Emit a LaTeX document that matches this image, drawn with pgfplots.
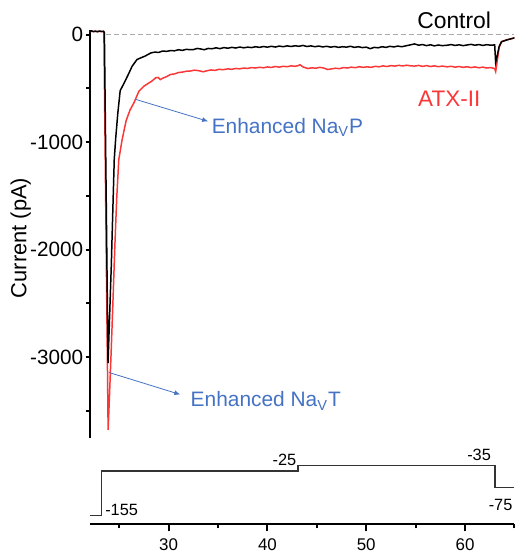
\documentclass[border=0pt]{standalone}
\usepackage{pgfplots}
\pgfplotsset{compat=1.18}
\usepackage{fontspec}
\setmainfont{Liberation Sans}
\usetikzlibrary{arrows.meta}
\definecolor{atxred}{RGB}{250,55,55}
\definecolor{annblue}{RGB}{68,114,196}
\definecolor{dashgray}{RGB}{170,170,170}
\begin{document}
\begin{tikzpicture}
% current traces
\begin{axis}[
  at={(0,0)}, anchor=south west,
  scale only axis, width=213.5pt, height=205pt,
  xmin=22, xmax=65, ymin=-3750, ymax=45,
  axis x line=none, axis y line*=left,
  axis line style={line width=1pt,-},
  xtick=\empty,
  ytick={-3000,-2000,-1000,0},
  yticklabels={-3000,-2000,-1000,0},
  minor ytick={-3500,-2500,-1500,-500},
  tick align=outside,
  major tick length=2pt, minor tick length=1.6pt,
  every tick/.style={black,line width=1pt},
  yticklabel style={font=\fontsize{10.4}{12}\selectfont, inner sep=1pt},
  ylabel={Current (pA)},
  ylabel style={font=\fontsize{11}{13}\selectfont, at={(axis description cs:-0.162,0.49)}, anchor=center},
  clip mode=individual,
]
\addplot[dashgray, line width=0.5pt, dash pattern=on 2.5pt off 1.5pt] coordinates {(23.7,0) (65,0)};
\addplot[atxred, line width=0.75pt] coordinates {
 (22.0,30) (23.0,30) (23.45,28) (23.88,-3675) (24.0,-3400) (24.2,-2917) (24.38,-2450)
 (24.55,-1990) (24.75,-1520) (24.96,-1160) (25.3,-975) (25.7,-800) (26.1,-700) (26.5,-632)
 (27.0,-525) (27.5,-479) (28.3,-432) (28.7,-401) (28.95,-398) (29.15,-418) (29.4,-405)
 (29.8,-390) (30.2,-370) (30.6,-365) (31.0,-352) (31.4,-348) (31.8,-340) (32.2,-338)
 (32.6,-330) (33.0,-334) (33.5,-345) (33.9,-335) (34.3,-328) (34.7,-332) (35.1,-322)
 (35.5,-326) (36.0,-318) (36.4,-322) (36.8,-314) (37.2,-318) (37.6,-310) (38.0,-314)
 (38.4,-306) (38.8,-310) (39.2,-303) (39.6,-308) (40.0,-300) (40.4,-305) (40.8,-296)
 (41.2,-302) (41.6,-294) (42.0,-298) (42.4,-290) (42.8,-294) (43.1,-288) (43.3,-280)
 (43.6,-300) (44.1,-315) (44.5,-308) (44.9,-312) (45.3,-304) (45.7,-310) (46.1,-324)
 (46.5,-318) (46.9,-312) (47.3,-316) (47.7,-306) (48.1,-310) (48.5,-302) (48.9,-307)
 (49.3,-298) (49.7,-304) (50.1,-299) (50.5,-304) (50.9,-294) (51.3,-299) (51.7,-290)
 (52.1,-296) (52.5,-288) (52.9,-292) (53.3,-285) (53.7,-291) (54.1,-284) (54.5,-290)
 (54.9,-292) (55.3,-286) (55.7,-295) (56.1,-288) (56.5,-296) (56.9,-290) (57.3,-298)
 (57.7,-292) (58.2,-299) (58.6,-294) (59.0,-302) (59.4,-296) (59.8,-304) (60.2,-298)
 (60.6,-306) (61.0,-300) (61.4,-308) (61.8,-302) (62.2,-310) (62.6,-306) (63.0,-315)
 (63.1,-343) (63.25,-250) (63.45,-120) (63.7,-65) (64.2,-48) (64.7,-37) (65.0,-30)
};
\addplot[black, line width=0.75pt] coordinates {
 (22.0,30) (22.2,36) (22.4,28) (22.6,33) (22.8,27) (23.0,34) (23.2,30) (23.4,32) (23.5,20)
 (23.87,-3055) (24.0,-2700) (24.2,-2150) (24.35,-1650) (24.5,-1160) (24.65,-960)
 (24.85,-740) (25.1,-520) (25.5,-450) (26.0,-355) (26.3,-295) (26.8,-231) (27.2,-215)
 (27.6,-200) (28.2,-170) (28.6,-162) (29.0,-165) (29.4,-152) (29.8,-155) (30.2,-148)
 (30.6,-150) (31.0,-140) (31.4,-146) (31.8,-136) (32.2,-140) (32.5,-139) (32.9,-128)
 (33.2,-132) (33.6,-140) (34.0,-128) (34.4,-131) (34.8,-122) (35.2,-130) (35.6,-120)
 (36.0,-126) (36.4,-118) (36.8,-124) (37.2,-115) (37.6,-122) (38.0,-116) (38.4,-120)
 (38.8,-112) (39.2,-118) (39.6,-110) (40.0,-116) (40.4,-108) (40.8,-115) (41.2,-106)
 (41.6,-112) (42.0,-104) (42.4,-110) (42.8,-103) (43.2,-108) (43.6,-100) (44.0,-110)
 (44.4,-104) (44.8,-112) (45.2,-106) (45.6,-114) (46.0,-108) (46.4,-116) (46.8,-110)
 (47.2,-118) (47.6,-112) (48.0,-116) (48.4,-108) (48.8,-118) (49.2,-112) (49.6,-120)
 (50.0,-116) (50.4,-130) (50.8,-118) (51.2,-122) (51.6,-112) (52.0,-118) (52.4,-108)
 (52.8,-114) (53.2,-106) (53.6,-112) (54.0,-104) (54.4,-96) (54.9,-86) (55.3,-98)
 (55.7,-92) (56.1,-102) (56.5,-94) (56.9,-104) (57.3,-96) (57.7,-102) (58.2,-98)
 (58.6,-92) (59.0,-100) (59.4,-94) (59.8,-102) (60.2,-96) (60.6,-90) (61.0,-98)
 (61.4,-92) (61.8,-100) (62.2,-93) (62.6,-98) (63.0,-95) (63.1,-259) (63.25,-200)
 (63.45,-110) (63.7,-65) (64.2,-50) (64.7,-37) (65.0,-30)
};
\node[font=\fontsize{11.5}{13}\selectfont] at (axis cs:58.9,138) {Control};
\node[font=\fontsize{11.3}{13}\selectfont, text=atxred] at (axis cs:58.4,-600) {ATX-II};
\draw[annblue, line width=0.4pt, -{Latex[length=3pt,width=2.5pt]}] (axis cs:26.68,-602) -- (axis cs:34.0,-806);
\node[font=\fontsize{10.5}{12}\selectfont, text=annblue, anchor=west, inner sep=0pt] at (axis cs:34.33,-861) {Enhanced Na\textsubscript{V}P};
\draw[annblue, line width=0.4pt, -{Latex[length=3pt,width=2.5pt]}] (axis cs:23.96,-3142) -- (axis cs:31.18,-3347);
\node[font=\fontsize{10.5}{12}\selectfont, text=annblue, anchor=west, inner sep=0pt] at (axis cs:32.2,-3408) {Enhanced Na\textsubscript{V}T};
\end{axis}
% voltage protocol
\begin{axis}[
  at={(0,-43.5pt)}, anchor=south west,
  scale only axis, width=213.5pt, height=32.5pt,
  xmin=22, xmax=65, ymin=-181, ymax=5,
  axis x line*=bottom, axis y line=none,
  axis line style={line width=1pt,-},
  xtick={30,40,50,60}, xticklabels={30,40,50,60},
  minor xtick={25,35,45,55,65},
  ytick=\empty,
  tick align=outside,
  major tick length=3.5pt, minor tick length=2pt,
  every tick/.style={black,line width=1pt},
  xticklabel style={font=\fontsize{8.5}{10}\selectfont},
  ylabel={mV},
  ylabel style={font=\fontsize{9.5}{11}\selectfont, at={(axis description cs:-0.049,0.415)}, anchor=center},
  clip mode=individual,
]
\addplot[black!80, line width=0.85pt] coordinates {
 (22,-155) (23.2,-155) (23.2,-26.5) (43.1,-26.5) (43.1,-12) (63.05,-12) (63.05,-75) (65,-75)
};
\node[font=\fontsize{8.2}{10}\selectfont, anchor=west, inner sep=0pt] at (axis cs:23.55,-140) {-155};
\node[font=\fontsize{8.2}{10}\selectfont] at (axis cs:41.73,4.2) {-25};
\node[font=\fontsize{8.2}{10}\selectfont] at (axis cs:61.42,20) {-35};
\node[font=\fontsize{8.2}{10}\selectfont] at (axis cs:63.6,-125.8) {-75};
\end{axis}
\path (-45pt,-58.5pt) rectangle (214.5pt,220pt);
\end{tikzpicture}
\end{document}
